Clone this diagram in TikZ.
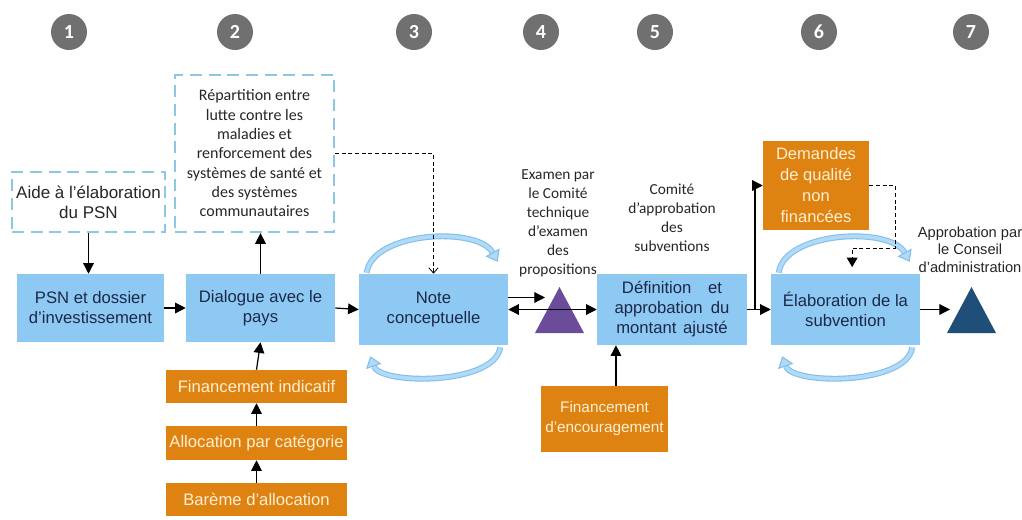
\documentclass[tikz,border=0pt]{standalone}
\usepackage{fontspec}
\setmainfont{Liberation Sans}
\newfontfamily\carlito{Carlito}
\usetikzlibrary{arrows.meta, calc, positioning}
\definecolor{boxblue}{RGB}{142,201,243}
\definecolor{dashblue}{RGB}{140,200,226}
\definecolor{fundorange}{RGB}{222,130,18}
\definecolor{cycblue}{RGB}{176,218,246}
\definecolor{cycedge}{RGB}{128,190,236}
\definecolor{stepgray}{RGB}{112,112,112}
\definecolor{navytext}{RGB}{28,40,72}
\definecolor{creamtext}{RGB}{253,240,210}
\definecolor{labeltext}{RGB}{38,38,38}
\definecolor{trpurple}{RGB}{106,76,154}
\definecolor{trnavy}{RGB}{31,78,121}

\begin{document}
\begin{tikzpicture}[x=0.75pt, y=-0.75pt,
    bluebox/.style={fill=boxblue, text=navytext, align=center, inner sep=2pt,
      font=\fontsize{12.5}{15}\selectfont},
    dashbox/.style={draw=dashblue, line width=1.7pt, dash pattern=on 9pt off 5pt,
      align=center, inner sep=2pt, text=labeltext},
    fundbox/.style={fill=fundorange, text=creamtext, align=center, inner sep=1pt,
      font=\fontsize{12.5}{15.5}\selectfont},
    stepnum/.style={circle, fill=stepgray, text=white, minimum size=27pt, inner sep=0pt,
      font=\carlito\bfseries\fontsize{15}{15}\selectfont},
    lbl/.style={align=center, text=labeltext, font=\carlito\fontsize{11.5}{14.3}\selectfont},
    arr/.style={line width=0.9pt, -{Triangle[length=8pt,width=8pt]}},
    dline/.style={line width=0.6pt, dash pattern=on 3pt off 2pt},
    cyc/.style={draw=cycedge, line width=0.8pt, double=cycblue, double distance=2.8pt,
      -{Triangle[open, length=8pt, width=12pt, fill=cycblue]}}]
  \useasboundingbox (0,0) rectangle (1022,519);

  % Step numbers
  \foreach \i/\xx in {1/69,2/235,3/414,4/541,5/655,6/819,7/971}
    \node[stepnum] (step\i) at (\xx,32) {\i};

  % Main row
  \node[bluebox, minimum width=110.25pt, minimum height=51pt] (psn) at (90.5,308)
    {PSN et dossier\\d’investissement};
  \node[bluebox, minimum width=111.75pt, minimum height=51pt] (dialogue) at (260.5,308)
    {Dialogue avec le\\pays};
  \node[bluebox, minimum width=111.75pt, minimum height=53.25pt] (note) at (433.5,309.5)
    {Note\\conceptuelle};
  \node[bluebox, minimum width=112.5pt, minimum height=53.25pt] (defin) at (672,309.5)
    {Définition\hspace{1em}et\\approbation\hspace{0.5em}du\\montant\hspace{0.4em}ajusté};
  \node[bluebox, minimum width=111.75pt, minimum height=53.25pt] (elab) at (845.5,309.5)
    {Élaboration de la\\subvention};

  % Dashed inputs
  \node[dashbox, minimum width=114.75pt, minimum height=45pt,
    font=\fontsize{12.75}{15}\selectfont] (aide) at (88.5,202)
    {Aide à l’élaboration\\du PSN};
  \node[dashbox, minimum width=119.25pt, minimum height=117.75pt,
    font=\carlito\fontsize{12}{14.5}\selectfont] (repart) at (254.5,153.5)
    {Répartition entre\\lutte contre les\\maladies et\\renforcement des\\systèmes de santé et\\des systèmes\\communautaires};

  % Funding boxes
  \node[fundbox, minimum width=135.75pt, minimum height=24.75pt] (finind) at (256.5,386.5)
    {Financement indicatif};
  \node[fundbox, minimum width=135.75pt, minimum height=25.5pt] (alloc) at (256.5,443)
    {Allocation par catégorie};
  \node[fundbox, minimum width=135.75pt, minimum height=24.75pt] (bareme) at (256.5,499.5)
    {Barème d’allocation};
  \node[fundbox, minimum width=95.25pt, minimum height=49.5pt,
    font=\fontsize{11.5}{15}\selectfont] (encour) at (604.5,419)
    {Financement\\d’encouragement};
  \node[fundbox, minimum width=79.5pt, minimum height=66.75pt,
    font=\fontsize{12.4}{15.75}\selectfont] (demandes) at (816,185.5)
    {Demandes\\de qualité\\non\\financées};

  % Review triangles
  \fill[trpurple] (535,333) -- (559.5,287) -- (584,333) -- cycle;
  \fill[trnavy] (947,333) -- (971.5,287) -- (996,333) -- cycle;
  \coordinate (examen) at (545,297.5);
  \coordinate (board) at (950,309.5);

  % Labels
  \node[lbl] (examlbl) at (558,223)
    {Examen par\\le Comité\\technique\\d’examen\\des\\propositions};
  \node[lbl] (comitelbl) at (672,217.5)
    {Comité\\d’approbation\\des\\subventions};
  \node[align=center, text=labeltext, font=\fontsize{11}{13}\selectfont] (approblbl) at (970,249.5)
    {Approbation par\\le Conseil\\d’administration};

  % Iteration loops
  \foreach \n in {note,elab} {
    \draw[cyc] ($(\n.north west)+(8,-1)$) .. controls ($(\n.north west)+(13,-42)$)
      and ($(\n.north west)+(119,-48)$) .. ($(\n.north west)+(139,-12)$);
    \draw[cyc] ($(\n.south east)+(-8,2)$) .. controls ($(\n.south east)+(-13,40)$)
      and ($(\n.south east)+(-128,40)$) .. ($(\n.south east)+(-138,11)$);
  }

  % Flow
  \draw[arr] (aide.south) -- (aide.south |- psn.north);
  \draw[arr] (psn.east) -- (dialogue.west);
  \draw[arr] (dialogue.north) -- (dialogue.north |- repart.south);
  \draw[arr] (dialogue.east) -- (note.west);
  \draw[arr] (finind.north) -- (dialogue.south);
  \draw[arr] (alloc.north) -- (finind.south);
  \draw[arr] (bareme.north) -- (alloc.south);
  \draw[dline, -{Straight Barb[length=4pt,width=7pt]}] (repart.east) -| (note.north);
  \draw[arr] ([yshift=9pt]note.east) -- (examen);
  \draw[arr, {Triangle[length=8pt,width=8pt]}-{Triangle[length=8pt,width=8pt]}]
    (note.east) -- (defin.west);
  \draw[arr] ([xshift=8.6pt]encour.north) -- ([xshift=8.6pt]encour.north |- defin.south);
  \coordinate (split) at ($(defin.east)!0.33!(elab.west)$);
  \draw[arr] (defin.east) -- (elab.west);
  \draw[arr] (split) |- (demandes.west);
  \draw[dline, -{Triangle[length=7pt,width=8pt]}] (demandes.east) -| (895,248)
    -| ([xshift=5pt,yshift=5pt]elab.north);
  \draw[arr] (elab.east) -- (board);
\end{tikzpicture}
\end{document}
